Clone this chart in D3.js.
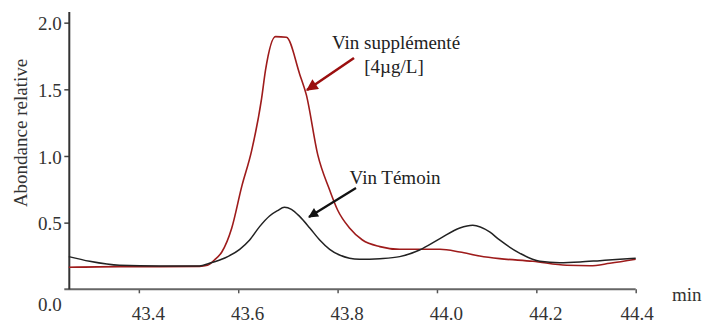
<!DOCTYPE html>
<html>
<head>
<meta charset="utf-8">
<script src="https://cdn.jsdelivr.net/npm/d3@7"></script>
<style>
  body { margin: 0; background: #fff; }
  svg { display: block; }
  svg text { font-family: "Liberation Serif", "DejaVu Serif", "Noto Serif", "Times New Roman", Times, serif !important; }
</style>
</head>
<body>
<svg width="702" height="324"></svg>
<script>
// Data
var timeTemoin = [43.259, 43.301, 43.361, 43.442, 43.522, 43.542, 43.573, 43.603, 43.623, 43.643,
    43.663, 43.679, 43.693, 43.707, 43.724, 43.744, 43.764, 43.784, 43.804, 43.844,
    43.885, 43.925, 43.965, 44.006, 44.046, 44.072, 44.106, 44.126, 44.167, 44.207,
    44.247, 44.288, 44.328, 44.368, 44.400];
var valTemoin = [0.245, 0.21, 0.18, 0.175, 0.175, 0.195, 0.235, 0.30, 0.37, 0.47,
    0.55, 0.59, 0.615, 0.60, 0.545, 0.46, 0.37, 0.30, 0.257, 0.225,
    0.23, 0.245, 0.295, 0.38, 0.46, 0.48, 0.43, 0.37, 0.27, 0.21,
    0.20, 0.205, 0.215, 0.225, 0.232];

var timeSuppl = [43.259, 43.361, 43.442, 43.522, 43.538, 43.552, 43.567, 43.587, 43.607, 43.627,
    43.647, 43.655, 43.675, 43.697, 43.724, 43.737, 43.760, 43.784, 43.800, 43.824,
    43.850, 43.885, 43.925, 44.006, 44.046, 44.086, 44.126, 44.193, 44.261, 44.308,
    44.348, 44.400];
var valSuppl = [0.165, 0.17, 0.17, 0.172, 0.18, 0.22, 0.28, 0.46, 0.77, 1.04,
    1.43, 1.645, 1.895, 1.89, 1.61, 1.46, 1.01, 0.745, 0.595, 0.46,
    0.37, 0.32, 0.30, 0.30, 0.28, 0.25, 0.23, 0.21, 0.18, 0.177,
    0.195, 0.225];

var xTicks = [43.4, 43.6, 43.8, 44.0, 44.2, 44.4];
var yTicks = [0.5, 1.0, 1.5, 2.0];

var svg = d3.select("svg");

var x = d3.scaleLinear().domain([43.26, 44.4]).range([69.3, 635.7]);
var y = d3.scaleLinear().domain([0, 2.08]).range([289.3, 12]);

// x axis
var xAxis = svg.append("g")
    .attr("transform", "translate(0," + y(0) + ")")
    .call(d3.axisBottom(x).tickValues(xTicks).tickSize(4).tickSizeOuter(0).tickFormat(d3.format(".1f")));
xAxis.attr("font-family", null);
xAxis.select(".domain").remove();
xAxis.append("line")
    .attr("x1", x.range()[0] - 5).attr("x2", x.range()[1])
    .attr("stroke", "#666").attr("stroke-width", 2);
xAxis.selectAll(".tick line").attr("stroke", "#555").attr("stroke-width", 1.5);
xAxis.selectAll(".tick text")
    .attr("y", 30.5).attr("dy", 0)
    .attr("dx", function (d, i) { return i === xTicks.length - 1 ? 1 : 9; })
    .attr("fill", "#333")
    .style("font-size", "19px");

// y axis
var yAxis = svg.append("g")
    .attr("transform", "translate(" + x.range()[0] + ",0)")
    .call(d3.axisLeft(y).tickValues(yTicks).tickSize(5).tickSizeOuter(0).tickFormat(d3.format(".1f")));
yAxis.attr("font-family", null);
yAxis.select(".domain").remove();
yAxis.append("line")
    .attr("y1", y.range()[1]).attr("y2", y(0))
    .attr("stroke", "#333").attr("stroke-width", 2);
yAxis.selectAll(".tick line").attr("stroke", "#444").attr("stroke-width", 1.5);
yAxis.selectAll(".tick text")
    .attr("x", -7.5).attr("dy", "0.38em")
    .attr("fill", "#333")
    .style("font-size", "19px");

// the 0.0 label sits under the x axis
svg.append("text")
    .attr("x", x.range()[0] - 7.5).attr("y", y(0) + 22)
    .attr("text-anchor", "end").attr("fill", "#333")
    .style("font-size", "19px")
    .text("0.0");

svg.append("text")
    .attr("transform", "translate(27,133) rotate(-90)")
    .attr("text-anchor", "middle").attr("fill", "#333")
    .style("font-size", "19px")
    .text("Abondance relative");

svg.append("text")
    .attr("x", 672).attr("y", 301)
    .attr("fill", "#333")
    .style("font-size", "19px")
    .text("min");

// curves
var line = d3.line()
    .x(function (d) { return x(d[0]); })
    .y(function (d) { return y(d[1]); })
    .curve(d3.curveMonotoneX);

svg.append("path")
    .datum(d3.zip(timeSuppl, valSuppl))
    .attr("d", line)
    .attr("fill", "none")
    .attr("stroke", "#9e1b1b")
    .attr("stroke-width", 1.6);

svg.append("path")
    .datum(d3.zip(timeTemoin, valTemoin))
    .attr("d", line)
    .attr("fill", "none")
    .attr("stroke", "#222")
    .attr("stroke-width", 1.5);

// annotations
var defs = svg.append("defs");
[["red", "#9b0f0f"], ["blk", "#111"]].forEach(function (m) {
    defs.append("marker")
        .attr("id", "arrow-" + m[0])
        .attr("viewBox", "0 0 10 10")
        .attr("refX", 9).attr("refY", 5)
        .attr("markerWidth", 5).attr("markerHeight", 4.5)
        .attr("markerUnits", "strokeWidth")
        .attr("orient", "auto")
        .append("path")
        .attr("d", "M0,0 L10,5 L0,10 Z")
        .attr("fill", m[1]);
});

svg.append("line")
    .attr("x1", 354).attr("y1", 58).attr("x2", 307).attr("y2", 90)
    .attr("stroke", "#9b0f0f").attr("stroke-width", 2.6)
    .attr("marker-end", "url(#arrow-red)");

svg.append("line")
    .attr("x1", 356).attr("y1", 188).attr("x2", 309).attr("y2", 217)
    .attr("stroke", "#111").attr("stroke-width", 2.2)
    .attr("marker-end", "url(#arrow-blk)");

var notes = svg.append("g")
    .attr("text-anchor", "middle")
    .attr("fill", "#222")
    .style("font-size", "19px");
notes.append("text").attr("x", 396).attr("y", 49).text("Vin supplémenté");
notes.append("text").attr("x", 394).attr("y", 73).text("[4µg/L]");
notes.append("text").attr("x", 395).attr("y", 184).text("Vin Témoin");
</script>
</body>
</html>
